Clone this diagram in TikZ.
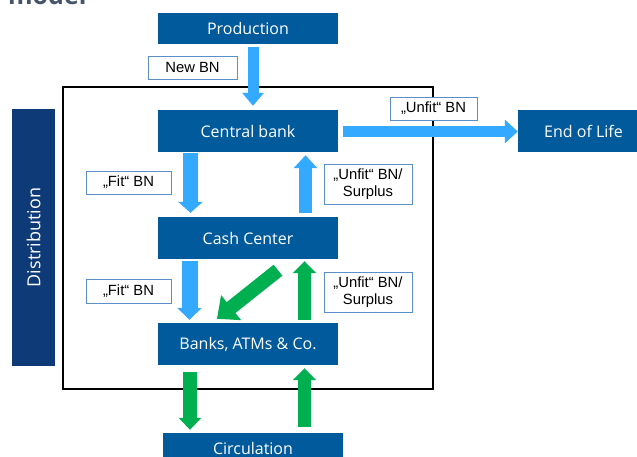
\documentclass[tikz,border=0pt]{standalone}
\usepackage{fontspec}
\setmainfont{Open Sans}
\newfontfamily\labelfont{Liberation Sans}
\usetikzlibrary{arrows.meta,calc}

\definecolor{boxblue}{HTML}{005A9C}
\definecolor{navy}{HTML}{0E3A78}
\definecolor{arrowblue}{HTML}{33AAFF}
\definecolor{arrowgreen}{HTML}{00B050}
\definecolor{labelborder}{HTML}{5B8FC9}
\definecolor{titlegray}{HTML}{44546A}

\begin{document}
\begin{tikzpicture}[x=1pt,y=-1pt,
  stage/.style={fill=boxblue, text=white, inner sep=0pt,
    font=\fontsize{16}{18}\selectfont},
  tag/.style={draw=labelborder, line width=0.8pt, fill=white, inner sep=0pt,
    align=center, font=\labelfont\fontsize{14.8}{16.5}\selectfont},
  flow/.style n args={3}{line width=#1, -{Triangle[width=#2,length=#3]}}]

\useasboundingbox (0,0) rectangle (637,456);

% heading (runs off the top edge)
\node[anchor=base west, inner sep=0pt, text=titlegray,
  font=\bfseries\fontsize{25}{25}\selectfont] (title) at (8,4.5) {model};

% distribution frame
\draw[line width=2.5pt] (63,87) rectangle (433,389);

% stages of the cycle
\node[stage, minimum width=180pt, minimum height=31pt] (prod) at (248,28.5) {Production};
\node[stage, minimum width=180pt, minimum height=42pt] (cb) at (248,131) {Central bank};
\node[stage, minimum width=180pt, minimum height=42pt] (cc) at (248,238) {Cash Center};
\node[stage, minimum width=180pt, minimum height=42pt] (banks) at (248,344) {Banks, ATMs \& Co.};
\node[stage, minimum width=180pt, minimum height=31pt] (circ) at (253,448.5) {Circulation};
\node[stage, minimum width=131pt, minimum height=42pt] (eol) at (583.5,131) {End of Life};
\node[fill=navy, text=white, inner sep=0pt, rotate=90,
  minimum width=257pt, minimum height=43pt,
  font=\fontsize{18}{20}\selectfont] (dist) at (33.5,237.5) {Distribution};

% blue flows
\draw[arrowblue, flow={11pt}{21pt}{13pt}] ($(prod.south)+(5,3)$) -- ($(cb.north)+(5,-4)$);
\draw[arrowblue, flow={11pt}{23pt}{13pt}] ($(cb.east)+(5,0.5)$) -- ($(eol.west)+(0,0.5)$);
\draw[arrowblue, flow={15pt}{24pt}{11pt}] ($(cb.south)+(-57.5,1)$) -- ($(cc.north)+(-57.5,-4)$);
\draw[arrowblue, flow={13pt}{23pt}{13pt}] ($(cc.north)+(57.5,-4)$) -- ($(cb.south)+(57.5,3)$);
\draw[arrowblue, flow={16pt}{24pt}{12pt}] ($(cc.south)+(-58.5,2)$) -- ($(banks.north)+(-58.5,-3)$);

% green flows
\draw[arrowgreen, flow={14pt}{31pt}{18pt}] ($(cc.south)+(30,11)$) -- ($(banks.north)+(-31,-4)$);
\draw[arrowgreen, flow={13pt}{23pt}{12pt}] ($(banks.north)+(56.5,-3)$) -- ($(cc.south)+(56.5,2)$);
\draw[arrowgreen, flow={14pt}{22pt}{12pt}] ($(banks.south)+(-58,7)$) -- ($(circ.north)+(-63,-3)$);
\draw[arrowgreen, flow={13pt}{23pt}{12pt}] ($(circ.north)+(51.5,-6)$) -- ($(banks.south)+(56.5,3)$);

% flow labels
\node[tag, minimum width=89pt, minimum height=23pt] (newbn) at (192.5,67.5) {New BN};
\node[tag, minimum width=87pt, minimum height=23pt] (unfit) at (433.5,108.5) {„Unfit“ BN};
\node[tag, minimum width=85pt, minimum height=23pt] (fitA) at (128.5,182.5) {„Fit“ BN};
\node[tag, minimum width=88pt, minimum height=40pt] (surA) at (368,184) {„Unfit“ BN/\\Surplus};
\node[tag, minimum width=85pt, minimum height=24pt] (fitB) at (128.5,291) {„Fit“ BN};
\node[tag, minimum width=88pt, minimum height=40pt] (surB) at (368,292) {„Unfit“ BN/\\Surplus};

\end{tikzpicture}
\end{document}
